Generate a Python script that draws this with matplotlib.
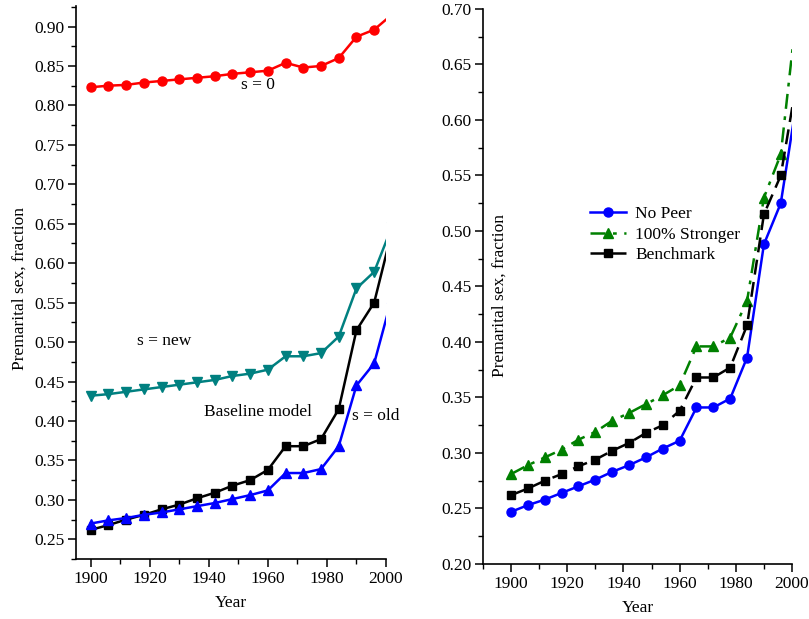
import matplotlib
matplotlib.use("Agg")
import matplotlib.pyplot as plt
from matplotlib.ticker import MultipleLocator, FormatStrFormatter

plt.rcParams['font.family'] = ['Liberation Serif', 'DejaVu Serif']
plt.rcParams['mathtext.fontset'] = 'stix'

years = [1900, 1906, 1912, 1918, 1924, 1930, 1936, 1942, 1948, 1954,
         1960, 1966, 1972, 1978, 1984, 1990, 1996, 2002]

# left panel
s_zero = [0.823, 0.825, 0.826, 0.829, 0.831, 0.833, 0.835, 0.837, 0.840, 0.842,
          0.844, 0.854, 0.848, 0.850, 0.860, 0.887, 0.896, 0.915]
s_new = [0.432, 0.434, 0.437, 0.440, 0.443, 0.446, 0.449, 0.452, 0.457, 0.460,
         0.465, 0.482, 0.482, 0.486, 0.507, 0.568, 0.589, 0.646]
baseline = [0.262, 0.268, 0.275, 0.281, 0.288, 0.294, 0.302, 0.309, 0.318, 0.325,
            0.338, 0.368, 0.368, 0.377, 0.415, 0.515, 0.550, 0.640]
s_old = [0.270, 0.274, 0.277, 0.281, 0.284, 0.288, 0.292, 0.296, 0.301, 0.306,
         0.312, 0.334, 0.334, 0.339, 0.368, 0.445, 0.473, 0.556]

# right panel
no_peer = [0.247, 0.253, 0.258, 0.264, 0.270, 0.276, 0.283, 0.289, 0.296, 0.304,
           0.311, 0.341, 0.341, 0.349, 0.386, 0.488, 0.525, 0.622]
stronger = [0.281, 0.289, 0.296, 0.303, 0.312, 0.319, 0.329, 0.336, 0.344, 0.352,
            0.361, 0.396, 0.396, 0.404, 0.437, 0.530, 0.569, 0.705]
benchmark = baseline

fs = 12.5
fig = plt.figure(figsize=(8.09, 6.19), dpi=100)

ax1 = fig.add_axes([0.0939, 0.0969, 0.3832, 0.8934])
ax1.plot(years, s_zero, color='#ff0000', lw=1.8, marker='o', ms=6.5)
ax1.plot(years, s_new, color='#008080', lw=1.8, marker='v', ms=7)
ax1.plot(years, baseline, color='black', lw=1.8, marker='s', ms=6)
ax1.plot(years, s_old, color='#0000ff', lw=1.8, marker='^', ms=7.5)
ax1.set_xlim(1895, 2000)
ax1.set_ylim(0.225, 0.926)
ax1.yaxis.set_major_locator(MultipleLocator(0.05))
ax1.yaxis.set_minor_locator(MultipleLocator(0.025))
ax1.yaxis.set_major_formatter(FormatStrFormatter('%.2f'))
ax1.text(1956.5, 0.826, 's = 0', fontsize=fs, ha='center', va='center')
ax1.text(1925, 0.501, 's = new', fontsize=fs, ha='center', va='center')
ax1.text(1956.8, 0.4115, 'Baseline model', fontsize=fs, ha='center', va='center')
ax1.text(1996.4, 0.4063, 's = old', fontsize=fs, ha='center', va='center', clip_on=False)
ax1.set_ylabel('Premarital sex, fraction', fontsize=fs)
ax1.yaxis.set_label_coords(-0.155, 0.49)

ax2 = fig.add_axes([0.597, 0.0889, 0.382, 0.8966])
ax2.plot(years, no_peer, color='#0000ff', lw=1.8, marker='o', ms=6.5, label='No Peer')
ax2.plot(years, stronger, color='#008000', lw=1.8, marker='^', ms=7.5,
         dashes=(6, 3, 1.5, 3), label='100% Stronger')
ax2.plot(years, benchmark, color='black', lw=1.8, marker='s', ms=6,
         dashes=(6, 3), label='Benchmark')
ax2.set_xlim(1890, 2000)
ax2.set_ylim(0.20, 0.70)
ax2.yaxis.set_major_locator(MultipleLocator(0.05))
ax2.yaxis.set_minor_locator(MultipleLocator(0.025))
ax2.yaxis.set_major_formatter(FormatStrFormatter('%.2f'))
ax2.set_ylabel('Premarital sex, fraction', fontsize=fs)
ax2.yaxis.set_label_coords(0.081, 0.483)
ax2.legend(loc='upper left', bbox_to_anchor=(0.346, 0.645), frameon=False,
           fontsize=fs, borderaxespad=0, borderpad=0, labelspacing=0.25,
           handlelength=2.1, handletextpad=0.5)

for ax in (ax1, ax2):
    ax.spines['top'].set_visible(False)
    ax.spines['right'].set_visible(False)
    ax.spines['left'].set_linewidth(1.2)
    ax.spines['bottom'].set_linewidth(1.2)
    ax.xaxis.set_major_locator(MultipleLocator(20))
    ax.xaxis.set_minor_locator(MultipleLocator(10))
    ax.tick_params(which='major', direction='out', length=6, width=1.1,
                   labelsize=fs, pad=2.5)
    ax.tick_params(which='minor', direction='out', length=3.5, width=1.0)
    ax.set_xlabel('Year', fontsize=fs, labelpad=6)

fig.savefig('out.png', dpi=100)
